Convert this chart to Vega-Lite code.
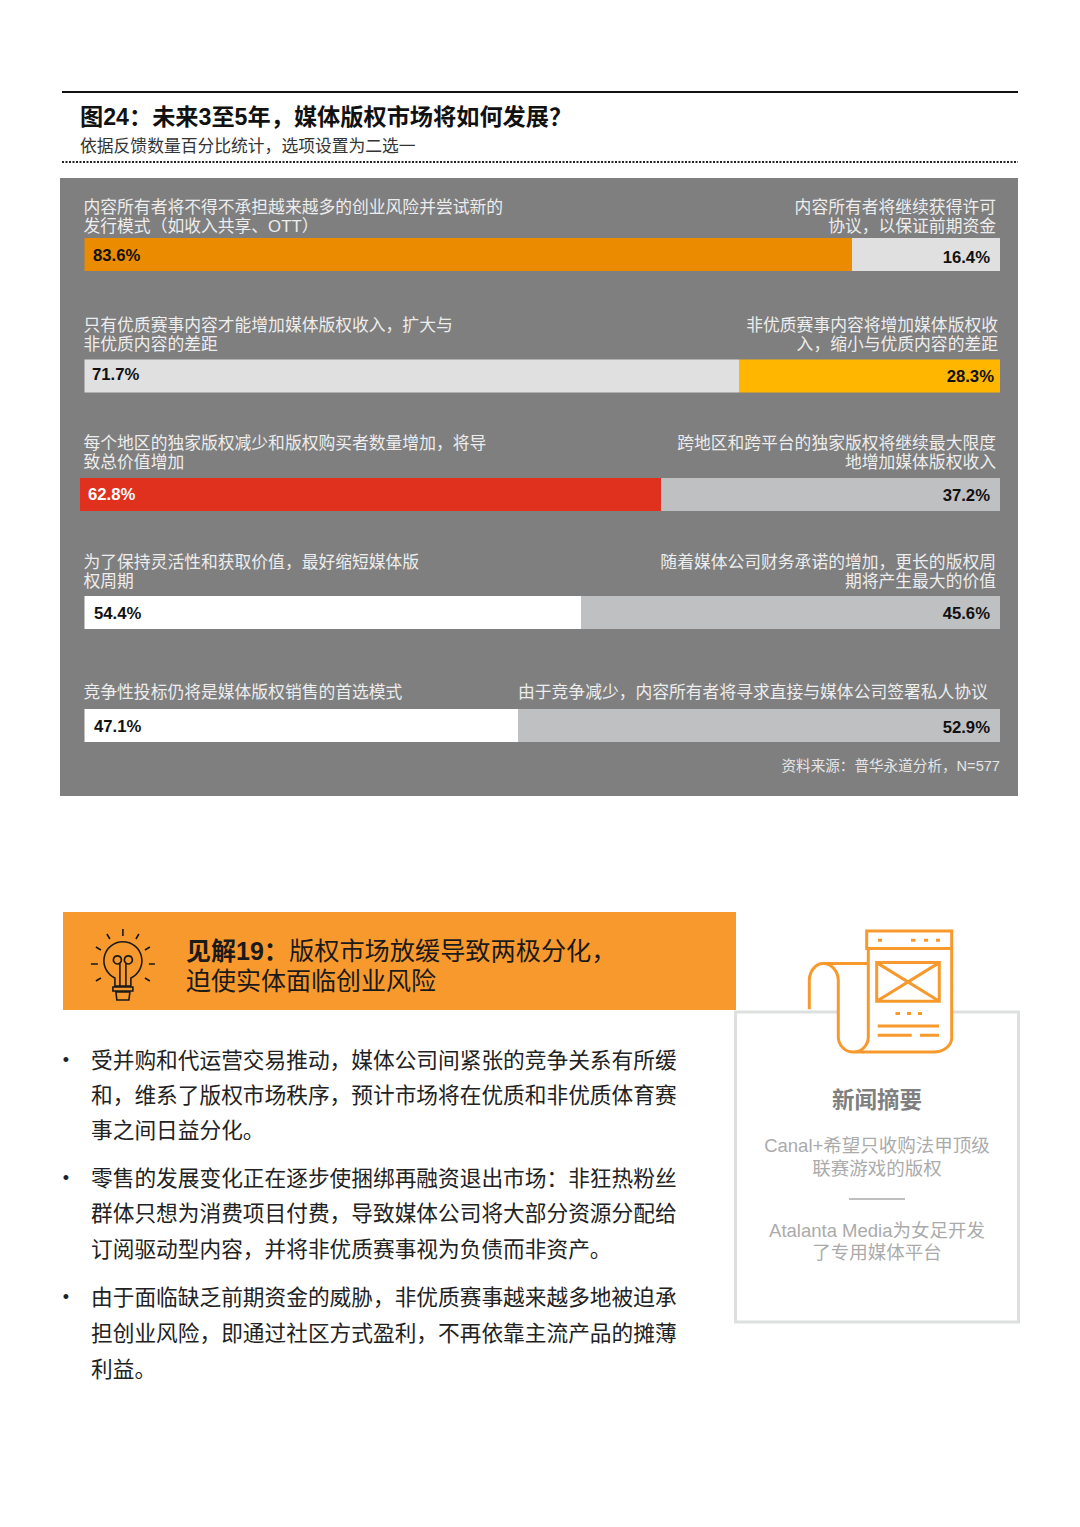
{
"$schema":"https://vega.github.io/schema/vega-lite/v6.json",
"background":"#ffffff",
"padding":{"left":60,"right":62,"top":91,"bottom":0},
"spacing":0,
"config":{"view":{"stroke":null},"text":{"font":"Liberation Sans, Noto Sans CJK SC"},"axis":{"disable":true}},
"datasets":{
"segments":[
{"row":1,"side":"left","tone":"orange","share":0.836,"start":0,"end":0.836},
{"row":1,"side":"right","tone":"pale","share":0.164,"start":0.836,"end":1},
{"row":2,"side":"left","tone":"pale","share":0.717,"start":0,"end":0.717},
{"row":2,"side":"right","tone":"amber","share":0.283,"start":0.717,"end":1},
{"row":3,"side":"left","tone":"red","share":0.628,"start":0,"end":0.628},
{"row":3,"side":"right","tone":"silver","share":0.372,"start":0.628,"end":1},
{"row":4,"side":"left","tone":"white","share":0.544,"start":0,"end":0.544},
{"row":4,"side":"right","tone":"silver","share":0.456,"start":0.544,"end":1},
{"row":5,"side":"left","tone":"white","share":0.471,"start":0,"end":0.471},
{"row":5,"side":"right","tone":"silver","share":0.529,"start":0.471,"end":1}
],
"options":[
{"row":1,"side":"left","start":0,"label":"内容所有者将不得不承担越来越多的创业风险并尝试新的\n发行模式（如收入共享、OTT）"},
{"row":1,"side":"right","start":0.836,"label":"内容所有者将继续获得许可\n协议，以保证前期资金"},
{"row":2,"side":"left","start":0,"label":"只有优质赛事内容才能增加媒体版权收入，扩大与\n非优质内容的差距"},
{"row":2,"side":"right","start":0.717,"label":"非优质赛事内容将增加媒体版权收\n入，缩小与优质内容的差距"},
{"row":3,"side":"left","start":0,"label":"每个地区的独家版权减少和版权购买者数量增加，将导\n致总价值增加"},
{"row":3,"side":"right","start":0.628,"label":"跨地区和跨平台的独家版权将继续最大限度\n地增加媒体版权收入"},
{"row":4,"side":"left","start":0,"label":"为了保持灵活性和获取价值，最好缩短媒体版\n权周期"},
{"row":4,"side":"right","start":0.544,"label":"随着媒体公司财务承诺的增加，更长的版权周\n期将产生最大的价值"},
{"row":5,"side":"left","start":0,"label":"竞争性投标仍将是媒体版权销售的首选模式"},
{"row":5,"side":"single","start":0.471,"label":"由于竞争减少，内容所有者将寻求直接与媒体公司签署私人协议"}
],
"body":[
{"line":1,"text":"受并购和代运营交易推动，媒体公司间紧张的竞争关系有所缓"},
{"line":2,"text":"和，维系了版权市场秩序，预计市场将在优质和非优质体育赛"},
{"line":3,"text":"事之间日益分化。"},
{"line":4,"text":"零售的发展变化正在逐步使捆绑再融资退出市场：非狂热粉丝"},
{"line":5,"text":"群体只想为消费项目付费，导致媒体公司将大部分资源分配给"},
{"line":6,"text":"订阅驱动型内容，并将非优质赛事视为负债而非资产。"},
{"line":7,"text":"由于面临缺乏前期资金的威胁，非优质赛事越来越多地被迫承"},
{"line":8,"text":"担创业风险，即通过社区方式盈利，不再依靠主流产品的摊薄"},
{"line":9,"text":"利益。"}
],
"card":[
{"line":1,"kind":"head","text":"新闻摘要"},
{"line":2,"kind":"item","text":"Canal+希望只收购法甲顶级"},
{"line":3,"kind":"item","text":"联赛游戏的版权"},
{"line":4,"kind":"item","text":"Atalanta Media为女足开发"},
{"line":5,"kind":"item","text":"了专用媒体平台"}
]
},
"vconcat":[
{
"width":958,"height":86,
"resolve":{"scale":{"x":"independent","y":"independent"}},
"layer":[
{"data":{"values":[{"line":1}]},"mark":{"type":"rule","color":"#111111","strokeWidth":2},
"encoding":{"x":{"datum":0,"scale":{"domain":[0,1],"range":[2,958]},"axis":null},"x2":{"datum":1},"y":{"field":"line","type":"quantitative","axis":null,"scale":{"domain":[1,2,3,4],"range":[0,26,55,70],"nice":false,"zero":false}}}},
{"data":{"values":[{"line":4}]},"mark":{"type":"rule","color":"#222222","strokeWidth":2,"strokeDash":[2,1.5]},
"encoding":{"x":{"datum":0,"scale":{"domain":[0,1],"range":[2,958]},"axis":null},"x2":{"datum":1},"y":{"field":"line","type":"quantitative","axis":null,"scale":{"domain":[1,2,3,4],"range":[0,26,55,70],"nice":false,"zero":false}}}},
{"data":{"values":[{"line":2,"text":"图24：未来3至5年，媒体版权市场将如何发展？"}]},"mark":{"type":"text","align":"left","baseline":"middle","fontSize":23.2,"fontWeight":"bold","color":"#111111"},
"encoding":{"x":{"datum":0,"scale":{"domain":[0,1],"range":[20,958]},"axis":null},"y":{"field":"line","type":"quantitative","axis":null,"scale":{"domain":[1,2,3,4],"range":[0,26,55,70],"nice":false,"zero":false}},"text":{"field":"text"}}},
{"data":{"values":[{"line":3,"text":"依据反馈数量百分比统计，选项设置为二选一"}]},"mark":{"type":"text","align":"left","baseline":"middle","fontSize":16.8,"color":"#333333"},
"encoding":{"x":{"datum":0,"scale":{"domain":[0,1],"range":[20,958]},"axis":null},"y":{"field":"line","type":"quantitative","axis":null,"scale":{"domain":[1,2,3,4],"range":[0,26,55,70],"nice":false,"zero":false}},"text":{"field":"text"}}}
]
},
{
"width":958,"height":618,
"view":{"fill":"#7f7f7f","stroke":null},
"resolve":{"scale":{"x":"independent","y":"independent","color":"shared"}},
"layer":[
{"data":{"name":"segments"},"transform":[{"filter":"datum.row!==3"}],"mark":{"type":"bar","orient":"horizontal","height":33},
"encoding":{"x":{"field":"start","type":"quantitative","axis":null,"scale":{"domain":[0,0.471,0.544,0.717,0.836,1],"range":[24.5,458,521,679,792,940],"nice":false}},"x2":{"field":"end"},
"y":{"field":"row","type":"quantitative","axis":null,"scale":{"domain":[1,2,3,4,5],"range":[76.5,198,316.5,434.5,547.5],"nice":false,"zero":false,"padding":0}},
"color":{"field":"tone","type":"nominal","legend":null,"scale":{"domain":["orange","amber","red","pale","silver","white"],"range":["#EB8C00","#FFB600","#E0301E","#E0E0E0","#BFC0C2","#FFFFFF"]}}}},
{"data":{"name":"segments"},"transform":[{"filter":"datum.row===3"}],"mark":{"type":"bar","orient":"horizontal","height":33},
"encoding":{"x":{"field":"start","type":"quantitative","axis":null,"scale":{"domain":[0,0.628,1],"range":[20,601,940],"nice":false}},"x2":{"field":"end"},
"y":{"field":"row","type":"quantitative","axis":null,"scale":{"domain":[1,2,3,4,5],"range":[76.5,198,316.5,434.5,547.5],"nice":false,"zero":false,"padding":0}},
"color":{"field":"tone","type":"nominal","legend":null}}},
{"data":{"name":"segments"},"transform":[{"filter":"datum.side==='left'&&datum.row!==3"}],"mark":{"type":"text","align":"left","baseline":"middle","fontSize":16.7,"fontWeight":"bold","color":"#111111"},
"encoding":{"x":{"field":"row","type":"quantitative","axis":null,"scale":{"domain":[1,2,4,5],"range":[33,32,34,34],"nice":false,"zero":false}},"y":{"field":"row","type":"quantitative","axis":null,"scale":{"domain":[1,2,3,4,5],"range":[78,197,316.5,435.5,548.5],"nice":false,"zero":false}},"text":{"field":"share","type":"quantitative","format":".1%"}}},
{"data":{"name":"segments"},"transform":[{"filter":"datum.side==='left'&&datum.row===3"}],"mark":{"type":"text","align":"left","baseline":"middle","dx":8,"fontSize":16.7,"fontWeight":"bold","color":"#ffffff"},
"encoding":{"x":{"datum":0,"scale":{"domain":[0,1],"range":[20,940]},"axis":null},"y":{"field":"row","type":"quantitative","axis":null,"scale":{"domain":[1,2,3,4,5],"range":[76.5,198,316.5,434.5,547.5],"nice":false,"zero":false}},"text":{"field":"share","type":"quantitative","format":".1%"}}},
{"data":{"name":"segments"},"transform":[{"filter":"datum.side==='right'"}],"mark":{"type":"text","align":"right","baseline":"middle","fontSize":16.7,"fontWeight":"bold","color":"#111111"},
"encoding":{"x":{"field":"row","type":"quantitative","axis":null,"scale":{"domain":[1,2,3,4,5],"range":[930,934,930,930,930],"nice":false,"zero":false}},"y":{"field":"row","type":"quantitative","axis":null,"scale":{"domain":[1,2,3,4,5],"range":[80,199,317.5,435.5,549.5],"nice":false,"zero":false}},"text":{"field":"share","type":"quantitative","format":".1%"}}},
{"data":{"name":"options"},"transform":[{"filter":"datum.side==='left'"}],"mark":{"type":"text","align":"left","baseline":"bottom","dx":-1,"fontSize":16.8,"lineHeight":19,"lineBreak":"\n","color":"#EDEDED"},
"encoding":{"x":{"datum":0,"scale":{"domain":[0,1],"range":[24.5,940]},"axis":null},"y":{"field":"row","type":"quantitative","axis":null,"scale":{"domain":[1,2,3,4,5],"range":[38.5,156.5,274.5,393.5,524],"nice":false,"zero":false}},"text":{"field":"label"}}},
{"data":{"name":"options"},"transform":[{"filter":"datum.side==='right'"}],"mark":{"type":"text","align":"right","baseline":"bottom","fontSize":16.8,"lineHeight":19,"lineBreak":"\n","color":"#EDEDED"},
"encoding":{"x":{"field":"row","type":"quantitative","axis":null,"scale":{"domain":[1,2,3,4],"range":[936,938,936,936],"nice":false,"zero":false}},"y":{"field":"row","type":"quantitative","axis":null,"scale":{"domain":[1,2,3,4,5],"range":[38.5,156.5,274.5,393.5,524],"nice":false,"zero":false}},"text":{"field":"label"}}},
{"data":{"name":"options"},"transform":[{"filter":"datum.side==='single'"}],"mark":{"type":"text","align":"left","baseline":"bottom","fontSize":16.8,"color":"#EDEDED"},
"encoding":{"x":{"field":"start","type":"quantitative","axis":null,"scale":{"domain":[0,0.471,1],"range":[24.5,458,940],"nice":false}},"y":{"field":"row","type":"quantitative","axis":null,"scale":{"domain":[1,2,3,4,5],"range":[38.5,156.5,274.5,393.5,524],"nice":false,"zero":false}},"text":{"field":"label"}}},
{"data":{"values":[{"row":6,"text":"资料来源：普华永道分析，N=577"}]},"mark":{"type":"text","align":"right","baseline":"middle","fontSize":14.6,"color":"#E6E6E6"},
"encoding":{"x":{"datum":1,"scale":{"domain":[0,1],"range":[24.5,940]},"axis":null},"y":{"field":"row","type":"quantitative","axis":null,"scale":{"domain":[5,6],"range":[548.5,589],"nice":false,"zero":false}},"text":{"field":"text"}}}
]
},
{
"width":958,"height":731,
"resolve":{"scale":{"x":"independent","y":"independent"}},
"layer":[
{"data":{"values":[{"block":"card"}]},"mark":{"type":"rect","fill":"#ffffff","stroke":"#DDDFE0","strokeWidth":3},
"encoding":{"x":{"datum":0,"scale":{"domain":[0,1],"range":[675.5,958.5]},"axis":null},"x2":{"datum":1},"y":{"datum":0,"scale":{"domain":[0,1],"range":[216,526]},"axis":null},"y2":{"datum":1}}},
{"data":{"values":[{"block":"band"}]},"mark":{"type":"rect","fill":"#F7992D"},
"encoding":{"x":{"datum":0,"scale":{"domain":[0,1],"range":[3,676]},"axis":null},"x2":{"datum":1},"y":{"datum":0,"scale":{"domain":[0,1],"range":[116,214]},"axis":null},"y2":{"datum":1}}},
{"data":{"values":[{"icon":"bulb"}]},"mark":{"type":"point","size":4,"filled":false,"stroke":"#1a1a1a","strokeWidth":1.6,"opacity":1,"shape":"M-8 17 A19 19 0 1 1 8 17 L8 25 L-8 25 Z M-10 26 L10 26 L10 30 L-10 30 Z M-7 31 L7 31 L6 39 L-6 39 Z M-3 25 L-3 2 A4 4 0 1 0 -8 2 A4 4 0 0 0 -3 2 M3 25 L3 2 A4 4 0 1 1 8 2 A4 4 0 0 1 3 2 M0 -32 L0 -25 M-16 -27 L-13 -22 M16 -27 L13 -22 M-27 -14 L-22 -11 M27 -14 L22 -11 M-32 3 L-25 3 M32 3 L26 3 M-27 20 L-22 17 M27 20 L22 17"},
"encoding":{"x":{"datum":0.089,"scale":{"domain":[0,1],"range":[3,676]},"axis":null},"y":{"datum":0.5,"scale":{"domain":[0,1],"range":[116,214]},"axis":null}}},
{"data":{"values":[{"icon":"news-back"}]},"mark":{"type":"point","size":4,"filled":true,"fill":"#ffffff","opacity":1,"strokeWidth":0,"shape":"M-41.7 -17 L-41.7 47 A15 15 0 0 0 -26.7 61.7 L53.3 61.7 A18 14 0 0 0 71.7 48 L71.7 -59 L-11.7 -59 L-11.7 -26 L-50 -26 Z"},
"encoding":{"x":{"datum":0.5106,"scale":{"domain":[0,1],"range":[675.5,958.5]},"axis":null},"y":{"datum":-0.07,"scale":{"domain":[0,1],"range":[216,526]},"axis":null}}},
{"data":{"values":[{"icon":"news"}]},"mark":{"type":"point","size":4,"filled":false,"stroke":"#F7992D","strokeWidth":3,"opacity":1,"shape":"M-13.3 -59.3 L71.7 -59.3 L71.7 -41.7 L-13.3 -41.7 Z M71.7 -41.7 L71.7 48 A18 14 0 0 1 53.3 61.7 L-26.7 61.7 A15 15 0 0 1 -41.7 47 L-41.7 -10 A15 17 0 0 0 -56.7 -26.7 A14 17 0 0 0 -70.7 -10 L-70.7 19 M-56.7 -26.7 L-12 -26.7 M-11.7 -41.7 L-11.7 47 A15 15 0 0 1 -26.7 61.7 M-3.3 -27.7 L59.3 -27.7 L59.3 11 L-3.3 11 Z M-3.3 -27.7 L59.3 11 M59.3 -27.7 L-3.3 11 M-2 -50 L2 -50 M31 -50 L35.5 -50 M44 -50 L48 -50 M56 -50 L60 -50 M15.5 23.3 L20 23.3 M27 23.3 L31 23.3 M38 23.3 L42 23.3 M-2.3 35.7 L59 35.7 M-2.3 45 L31.7 45 M40 45 L59 45"},
"encoding":{"x":{"datum":0.5106,"scale":{"domain":[0,1],"range":[675.5,958.5]},"axis":null},"y":{"datum":-0.07,"scale":{"domain":[0,1],"range":[216,526]},"axis":null}}},
{"data":{"values":[{"line":1,"text":"见解19："}]},"mark":{"type":"text","align":"left","baseline":"middle","fontSize":25,"fontWeight":"bold","color":"#1a1a1a"},
"encoding":{"x":{"datum":0,"scale":{"domain":[0,1],"range":[126,676]},"axis":null},"y":{"field":"line","type":"quantitative","axis":null,"scale":{"domain":[1,2],"range":[156,186],"nice":false,"zero":false}},"text":{"field":"text"}}},
{"data":{"values":[{"line":1,"text":"版权市场放缓导致两极分化，"}]},"mark":{"type":"text","align":"left","baseline":"middle","fontSize":25.2,"color":"#1a1a1a"},
"encoding":{"x":{"datum":0,"scale":{"domain":[0,1],"range":[229,676]},"axis":null},"y":{"field":"line","type":"quantitative","axis":null,"scale":{"domain":[1,2],"range":[156,186],"nice":false,"zero":false}},"text":{"field":"text"}}},
{"data":{"values":[{"line":2,"text":"迫使实体面临创业风险"}]},"mark":{"type":"text","align":"left","baseline":"middle","fontSize":25,"color":"#1a1a1a"},
"encoding":{"x":{"datum":0,"scale":{"domain":[0,1],"range":[126,676]},"axis":null},"y":{"field":"line","type":"quantitative","axis":null,"scale":{"domain":[1,2],"range":[156,186],"nice":false,"zero":false}},"text":{"field":"text"}}},
{"data":{"name":"body"},"mark":{"type":"text","align":"left","baseline":"middle","fontSize":21.7,"color":"#222222"},
"encoding":{"x":{"datum":0,"scale":{"domain":[0,1],"range":[31,676]},"axis":null},"y":{"field":"line","type":"quantitative","axis":null,"scale":{"domain":[1,2,3,4,5,6,7,8,9],"range":[265,300,335,383,418,454,502,538,574],"nice":false,"zero":false}},"text":{"field":"text"}}},
{"data":{"name":"body"},"transform":[{"filter":"datum.line===1||datum.line===4||datum.line===7"}],"mark":{"type":"text","align":"center","baseline":"middle","fontSize":18,"dx":-25,"color":"#222222","text":"•"},
"encoding":{"x":{"datum":0,"scale":{"domain":[0,1],"range":[31,676]},"axis":null},"y":{"field":"line","type":"quantitative","axis":null,"scale":{"domain":[1,2,3,4,5,6,7,8,9],"range":[265,300,335,383,418,454,502,538,574],"nice":false,"zero":false}}}},
{"data":{"name":"card"},"transform":[{"filter":"datum.kind==='head'"}],"mark":{"type":"text","align":"center","baseline":"middle","fontSize":22.5,"fontWeight":"bold","color":"#7f7f7f"},
"encoding":{"x":{"datum":0.5,"scale":{"domain":[0,1],"range":[675,959]},"axis":null},"y":{"field":"line","type":"quantitative","axis":null,"scale":{"domain":[1,2,3,4,5],"range":[305,350,373,435,457],"nice":false,"zero":false}},"text":{"field":"text"}}},
{"data":{"name":"card"},"transform":[{"filter":"datum.kind==='item'"}],"mark":{"type":"text","align":"center","baseline":"middle","fontSize":18.5,"color":"#ABABAB"},
"encoding":{"x":{"datum":0.5,"scale":{"domain":[0,1],"range":[675,959]},"axis":null},"y":{"field":"line","type":"quantitative","axis":null,"scale":{"domain":[1,2,3,4,5],"range":[305,350,373,435,457],"nice":false,"zero":false}},"text":{"field":"text"}}},
{"data":{"values":[{"line":3.5}]},"mark":{"type":"rule","color":"#7f7f7f","strokeWidth":1},
"encoding":{"x":{"datum":0,"scale":{"domain":[0,1],"range":[789,845]},"axis":null},"x2":{"datum":1},"y":{"field":"line","type":"quantitative","axis":null,"scale":{"domain":[1,2,3,4,5],"range":[304,349,372,434,456],"nice":false,"zero":false}}}}
]
}
]
}
